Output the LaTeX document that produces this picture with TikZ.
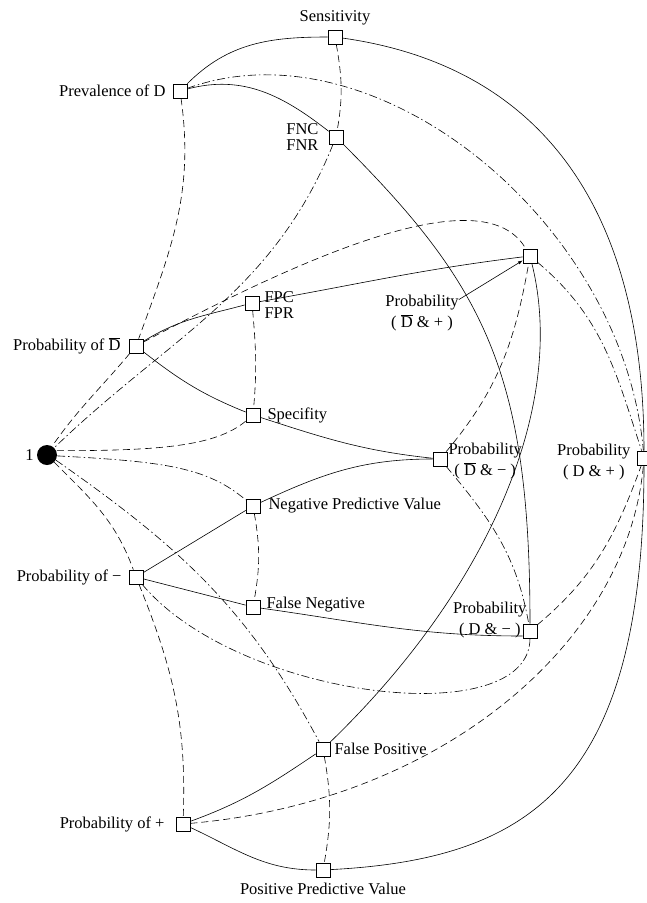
\documentclass[tikz,border=0pt]{standalone}
\usepackage{fontspec}
\setmainfont{Liberation Serif}
\usetikzlibrary{positioning}
\newcommand{\Dover}{$\overline{\hbox{D}}$}
\begin{document}
\begin{tikzpicture}[x=1pt,y=1pt,
		box/.style={draw,line width=0.7pt,minimum size=14pt,inner sep=0pt},
		txt/.style={inner sep=0pt,font=\fontsize{16.5}{18}\selectfont},
		prod/.style={line width=0.6pt},
		sum/.style={line width=0.6pt,dash pattern=on 7pt off 4pt},
		sumdot/.style={line width=0.6pt,dash pattern=on 8pt off 3pt on 1.5pt off 3pt}]
	\useasboundingbox (0,0) rectangle (647,-903);

	% boxes
	\foreach \n/\x/\y in {Sens/335/37, PrevD/180/91, FNC/336/137, PDpos/530/256,
		FPC/252/303, PDbar/136/346, Spec/253/415, PDbarneg/440/459,
		PDplus/644/458, NPV/253/506, Pneg/136/577, FN/253/607,
		PDneg/530/631, FP/323/749, Ppos/183/824, PPV/323/870}
	\node[box] (\n) at (\x,-\y) {};
	\node[circle,fill=black,minimum size=20pt,inner sep=0pt] (one) at (47,-455) {};

	% labels
	\node[txt,above=4pt of Sens] (lblSens) {Sensitivity};
	\node[txt,left=7pt of PrevD] (lblPrevD) {Prevalence of D};
	\node[txt,left=10pt of FNC,align=left] (lblFNC) {FNC\\[-2pt]FNR};
	\node[txt,right=5pt of FPC,yshift=-2pt,align=left] (lblFPC) {FPC\\[-2pt]FPR};
	\node[txt,left=8pt of PDbar] (lblPDbar) {Probability of \Dover};
	\node[txt,right=7pt of Spec] (lblSpec) {Specifity};
	\node[txt,left=3pt of one] (lblOne) {1};
	\node[txt,align=center] (lblPDpos) at (422,-313) {Probability\\[3pt]( \Dover{} \& + )};
	\node[txt,right=1pt of PDbarneg,yshift=-2pt,align=center] (lblPDbarneg) {Probability\\[3pt]( \Dover{} \& − )};
	\node[txt,left=6pt of PDplus,yshift=-4pt,align=center] (lblPDplus) {Probability\\[3pt]( D \& + )};
	\node[txt,right=8pt of NPV] (lblNPV) {Negative Predictive Value};
	\node[txt,left=7pt of Pneg] (lblPneg) {Probability of −};
	\node[txt,right=6pt of FN,yshift=2pt] (lblFN) {False Negative};
	\node[txt,left=-4pt of PDneg,yshift=11pt,align=center] (lblPDneg) {Probability\\[3pt]( D \& − )};
	\node[txt,right=4pt of FP] (lblFP) {False Positive};
	\node[txt,left=11pt of Ppos] (lblPpos) {Probability of +};
	\node[txt,below=5pt of PPV] (lblPPV) {Positive Predictive Value};

	% products (solid)
	\draw[prod] (PrevD) to[out=45,in=180] (Sens);
	\draw[prod] (Sens) to[out=-8,in=90,out distance=190pt,in distance=255pt] (PDplus);
	\draw[prod] (PrevD) to[out=15,in=142] (FNC);
	\draw[prod] (FNC) to[out=-45,in=90,out distance=200pt,in distance=250pt] (PDneg);
	\draw[prod] (PDbar) to[out=32,in=195] (FPC);
	\draw[prod] (FPC) to[out=10,in=187] (PDpos);
	\draw[prod] (PDbar) to[out=-38,in=158] (Spec);
	\draw[prod] (Spec) to[out=-18,in=174] (PDbarneg);
	\draw[prod] (Pneg) -- (NPV);
	\draw[prod] (NPV) to[out=25,in=180] (PDbarneg);
	\draw[prod] (Pneg) -- (FN);
	\draw[prod] (FN) to[out=-8,in=180] ([yshift=-5pt]PDneg.west);
	\draw[prod] (Ppos) to[out=20,in=214] (FP);
	\draw[prod] (FP) to[out=44,in=-76,out distance=215pt,in distance=150pt] (PDpos);
	\draw[prod] (Ppos) to[out=-25,in=180] (PPV);
	\draw[prod] (PPV) to[out=3,in=-90,out distance=200pt,in distance=320pt] (PDplus);

	% sums to 1 (dashed)
	\draw[sum] (Sens) to[out=-80,in=80] (FNC);
	\draw[sumdot] (FNC) to[out=-112,in=44] (one.45);
	\draw[sum] (PrevD) to[out=-82,in=70] (PDbar);
	\draw[sum] (PDbar) to[out=-130,in=55] (one.60);
	\draw[sum] (FPC) to[out=-85,in=85] (Spec);
	\draw[sum] (Spec) to[out=-140,in=0,out distance=40pt,in distance=100pt] (one.25);
	\draw[sum] (NPV) to[out=-80,in=80] (FN);
	\draw[sumdot] (one.-5) to[out=-3,in=140,out distance=110pt,in distance=50pt] (NPV);
	\draw[sum] (one.-45) to[out=-45,in=110] (Pneg);
	\draw[sum] (Pneg) to[out=-68,in=88] (Ppos);
	\draw[sum] (FP) to[out=-80,in=80] (PPV);
	\draw[sumdot] (one.-30) to[out=-35,in=118] (FP);

	% joint sums
	\draw[sum] (PDbar) to[out=28,in=120,out distance=200pt,in distance=80pt] (PDpos);
	\draw[sum] (PDbarneg) to[out=50,in=-100] (PDpos);
	\draw[sumdot] (PDbarneg) to[out=-50,in=100] (PDneg);
	\draw[sumdot] (PrevD) to[out=20,in=95,out distance=200pt,in distance=230pt] (PDplus);
	\draw[sumdot] (PDpos) to[out=-40,in=108] (PDplus);
	\draw[sum] (PDneg) to[out=40,in=-110] (PDplus);
	\draw[sumdot] (Pneg) to[out=-50,in=-90,out distance=150pt,in distance=95pt] (PDneg);
	\draw[sum] (Ppos) to[out=5,in=-95,out distance=250pt,in distance=180pt] (PDplus);

	% pointer
	\draw[prod,-latex] (lblPDpos.20) -- (PDpos);
\end{tikzpicture}
\end{document}
